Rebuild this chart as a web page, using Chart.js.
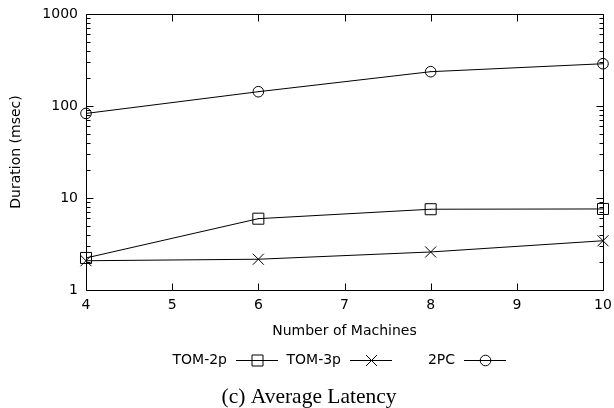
<!DOCTYPE html>
<html>
<head>
<meta charset="utf-8">
<script src="https://cdn.jsdelivr.net/npm/chart.js@4"></script>
<style>
  body { margin: 0; background: #fff; }
  canvas { display: block; }
</style>
</head>
<body>
<canvas id="latencyChart" width="614" height="408"></canvas>
<script>
// Average latency (msec) per cluster size
const machines = [4, 6, 8, 10];
const tom2p = [2.23, 5.96, 7.55, 7.6];
const tom3p = [2.08, 2.16, 2.59, 3.43];
const twoPC = [83, 143, 236, 288];

const seriesNames = ['TOM-2p', 'TOM-3p', '2PC'];
const pointStyles = ['rect', 'crossRot', 'circle'];
const yTicks = [1, 10, 100, 1000];
const xTicks = [4, 5, 6, 7, 8, 9, 10];

const FONT = '"DejaVu Sans", sans-serif';

// minor ticks at 2..9 inside each decade
const yMinor = [];
for (let i = 0; i < yTicks.length - 1; i++) {
    for (let k = 2; k <= 9; k++) yMinor.push(yTicks[i] * k);
}

const px = v => Math.round(v) + 0.5;

function drawMarker(ctx, style, cx, cy) {
    ctx.beginPath();
    if (style === 'rect') {
        ctx.rect(cx - 5.5, cy - 5.5, 11, 11);
    } else if (style === 'circle') {
        ctx.arc(cx, cy, 5.3, 0, Math.PI * 2);
    } else {
        ctx.moveTo(cx - 5.5, cy - 5.5); ctx.lineTo(cx + 5.5, cy + 5.5);
        ctx.moveTo(cx + 5.5, cy - 5.5); ctx.lineTo(cx - 5.5, cy + 5.5);
    }
    ctx.stroke();
    if (style !== 'crossRot') ctx.fillRect(Math.floor(cx), Math.floor(cy), 1, 1);
}

// box around the plot with inward ticks on all four sides
const frameTicks = {
    id: 'frameTicks',
    beforeDatasetsDraw(chart) {
        const { ctx, chartArea: a, scales: { x, y } } = chart;
        const L = px(a.left), R = px(a.right), T = px(a.top), B = px(a.bottom);
        ctx.save();
        ctx.strokeStyle = '#000';
        ctx.lineWidth = 1;
        ctx.beginPath();
        ctx.rect(L, T, R - L, B - T);
        xTicks.forEach(v => {
            const xp = px(x.getPixelForValue(v));
            ctx.moveTo(xp, B); ctx.lineTo(xp, B - 7);
            ctx.moveTo(xp, T); ctx.lineTo(xp, T + 7);
        });
        yTicks.forEach(v => {
            const yp = px(y.getPixelForValue(v));
            ctx.moveTo(L, yp); ctx.lineTo(L + 7, yp);
            ctx.moveTo(R, yp); ctx.lineTo(R - 7, yp);
        });
        yMinor.forEach(v => {
            const yp = px(y.getPixelForValue(v));
            ctx.moveTo(L, yp); ctx.lineTo(L + 4, yp);
            ctx.moveTo(R, yp); ctx.lineTo(R - 4, yp);
        });
        ctx.stroke();
        ctx.restore();
    },
    afterDatasetsDraw(chart) {
        const { ctx } = chart;
        ctx.save();
        ctx.fillStyle = '#000';
        chart.data.datasets.forEach((ds, i) => {
            if (ds.pointStyle === 'crossRot') return;
            chart.getDatasetMeta(i).data.forEach(p => {
                ctx.fillRect(Math.floor(p.x), Math.floor(p.y), 1, 1);
            });
        });
        ctx.restore();
    }
};

// gnuplot-style key under the axis, plus the caption
const keyAndCaption = {
    id: 'keyAndCaption',
    afterDraw(chart) {
        const { ctx } = chart;
        const keyY = 360.5;
        ctx.save();
        ctx.strokeStyle = '#000';
        ctx.fillStyle = '#000';
        ctx.lineWidth = 1;
        ctx.font = '14px ' + FONT;
        ctx.textAlign = 'right';
        ctx.textBaseline = 'middle';
        seriesNames.forEach((name, i) => {
            const cx = 257 + 114 * i;
            ctx.fillText(name, cx - 30, keyY);
            ctx.beginPath();
            ctx.moveTo(cx - 21, keyY); ctx.lineTo(cx + 21, keyY);
            ctx.stroke();
            drawMarker(ctx, pointStyles[i], cx + 0.5, keyY);
        });
        ctx.font = '21.5px "Liberation Serif", "Times New Roman", serif';
        ctx.textAlign = 'center';
        ctx.textBaseline = 'alphabetic';
        ctx.fillText('(c) Average Latency', 309, 403);
        ctx.restore();
    }
};

Chart.defaults.color = '#000';
Chart.defaults.font.family = FONT;
Chart.defaults.font.size = 14;

const series = [tom2p, tom3p, twoPC];
const radii = [7.8, 7.8, 5.3];

new Chart(document.getElementById('latencyChart'), {
    type: 'line',
    data: {
        datasets: series.map((vals, i) => ({
            label: seriesNames[i],
            data: machines.map((m, j) => ({ x: m, y: vals[j] })),
            borderColor: '#000',
            borderWidth: 1,
            pointStyle: pointStyles[i],
            pointRadius: radii[i],
            pointBorderWidth: 1,
            pointBorderColor: '#000',
            pointBackgroundColor: 'rgba(0,0,0,0)',
            tension: 0,
            clip: false
        }))
    },
    options: {
        responsive: false,
        animation: false,
        layout: { padding: { top: 14, right: 11, bottom: 0, left: 0 } },
        plugins: {
            legend: { display: false },
            tooltip: { enabled: false }
        },
        scales: {
            x: {
                type: 'linear',
                min: 4,
                max: 10,
                grid: { display: false, drawTicks: false },
                border: { display: false },
                afterBuildTicks: s => { s.ticks = xTicks.map(v => ({ value: v })); },
                ticks: { padding: 7, callback: v => String(v) },
                title: {
                    display: true,
                    text: 'Number of Machines',
                    padding: { top: 0, bottom: 68.6 }
                },
                afterFit: s => {
                    s.height = 118;
                    // end labels may hang over the edges; layout padding handles room
                    s.paddingLeft = 0;
                    s.paddingRight = 0;
                }
            },
            y: {
                type: 'logarithmic',
                min: 1,
                max: 1000,
                grid: { display: false, drawTicks: false },
                border: { display: false },
                afterBuildTicks: s => { s.ticks = yTicks.map(v => ({ value: v })); },
                ticks: { padding: 8, callback: v => String(v) },
                title: {
                    display: true,
                    text: 'Duration (msec)',
                    padding: { top: 7.6, bottom: 0 }
                },
                afterFit: s => {
                    s.width = 86;
                    s.paddingTop = 0;
                    s.paddingBottom = 0;
                }
            }
        }
    },
    plugins: [frameTicks, keyAndCaption]
});
</script>
</body>
</html>
